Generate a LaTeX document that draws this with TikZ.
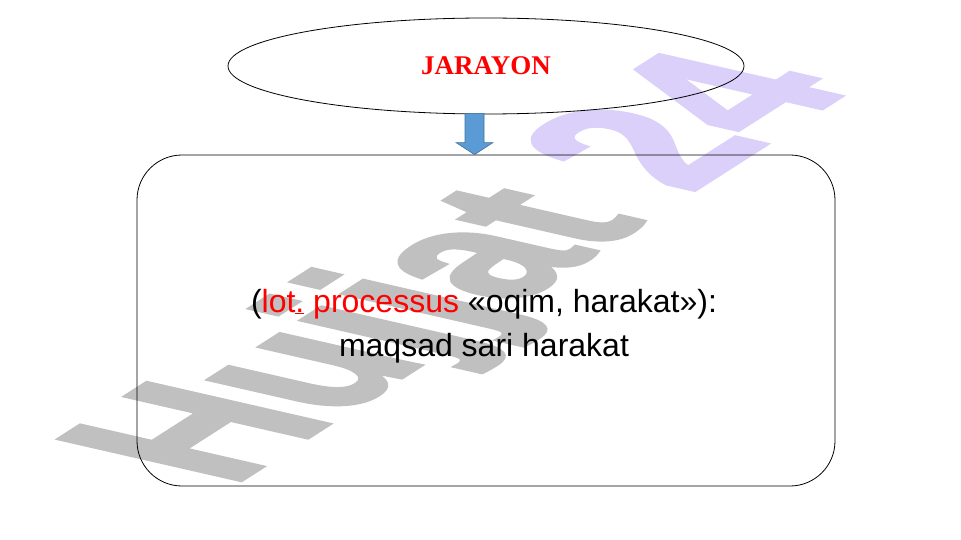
\documentclass[tikz,border=0pt]{standalone}
\usepackage{fontspec}
\setmainfont{Liberation Sans}
\newfontfamily\jserif{Liberation Serif}
\newfontfamily\wmfont[FakeBold=2.5]{Liberation Sans Bold}
\usetikzlibrary{shapes.geometric,calc}
\definecolor{wmgray}{RGB}{192,192,192}
\definecolor{wmlav}{RGB}{218,208,250}
\definecolor{arrfill}{RGB}{91,155,213}
\definecolor{arrdraw}{RGB}{65,113,156}
\begin{document}
\begin{tikzpicture}[x=1pt,y=1pt,
  wm/.style={transform shape, anchor=base west, inner sep=0, font=\wmfont\fontsize{100}{100}\selectfont},
  titleell/.style={ellipse, draw, line width=0.8, minimum width=516, minimum height=96, inner sep=0,
    font=\jserif\bfseries\fontsize{27}{27}\selectfont, text=red},
  mainbox/.style={draw, line width=0.8, rounded corners=45, minimum width=698, minimum height=331, inner sep=0},
  bodytext/.style={align=center, inner sep=0, font=\fontsize{32}{44}\selectfont},
  blockarrow/.style={fill=arrfill, draw=arrdraw, line width=0.6}]
\useasboundingbox (0,0) rectangle (961,-540);
\begin{scope}[cm={1.50,0.96,-2.626,0.60,(230,-487)}]
\node[wm] (wm) at (0,0) {\color{wmgray}Hujjat \color{wmlav}24};
\end{scope}
\node[titleell] (ell) at (486,-66) {\raisebox{-2pt}{JARAYON}};
\node[mainbox] (box) at (486,-320.5) {};
\coordinate (atop) at ($(ell.south)+(-11.5,1)$);
\coordinate (atip) at (atop |- box.north);
\draw[blockarrow] ($(atop)+(-9.5,0)$) -- ($(atop)+(9.5,0)$) -- ($(atip)+(9.5,12)$) -- ($(atip)+(18.5,12)$)
  -- (atip) -- ($(atip)+(-18.5,12)$) -- ($(atip)+(-9.5,12)$) -- cycle;
\node[bodytext] (txt) at (484,-326) {(\textcolor{red}{lot\underline{.} processus} «oqim, harakat»):\\ maqsad sari harakat};
\end{tikzpicture}
\end{document}
